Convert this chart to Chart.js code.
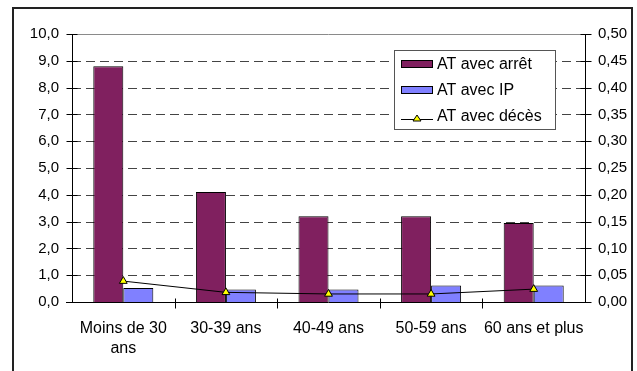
<!DOCTYPE html>
<html>
<head>
<meta charset="utf-8">
<script src="https://cdn.jsdelivr.net/npm/chart.js@4/dist/chart.umd.min.js"></script>
<style>
  html, body { margin: 0; padding: 0; background: #ffffff; }
  #wrap { position: relative; width: 637px; height: 371px; }
</style>
</head>
<body>
<div id="wrap"><canvas id="chart" width="637" height="371"></canvas></div>
<script>
// Age groups and the three accident rates
const categories = [['Moins de 30', 'ans'], '30-39 ans', '40-49 ans', '50-59 ans', '60 ans et plus'];
const seriesNames = ['AT avec arrêt', 'AT avec IP', 'AT avec décès'];
const atAvecArret = [8.8, 4.1, 3.2, 3.2, 2.95];
const atAvecIP = [0.52, 0.47, 0.47, 0.62, 0.62];
const atAvecDeces = [0.039, 0.018, 0.015, 0.015, 0.024];

const FONT = '"Liberation Sans", Arial, sans-serif';
const frac = (v, d) => v.toFixed(d).replace('.', ',');

// Outer frame of the chart block
const framePlugin = {
  id: 'frame',
  beforeDraw(chart) {
    const ctx = chart.ctx;
    ctx.save();
    ctx.strokeStyle = '#222';
    ctx.lineWidth = 2;
    ctx.beginPath();
    ctx.moveTo(13, 380);
    ctx.lineTo(13, 8);
    ctx.lineTo(632, 8);
    ctx.lineTo(632, 380);
    ctx.stroke();
    ctx.restore();
  }
};

// Dashed horizontal grid, axis lines and crossing tick marks
const axesPlugin = {
  id: 'axesDraw',
  beforeDatasetsDraw(chart) {
    const ctx = chart.ctx;
    const { left, right, top, bottom } = chart.chartArea;
    const y = chart.scales.y, y1 = chart.scales.y1;
    ctx.save();
    ctx.lineWidth = 1;
    y.ticks.forEach(t => {
      if (t.value === y.min) return;
      const py = Math.round(y.getPixelForValue(t.value)) + 0.5;
      ctx.beginPath();
      if (t.value === y.max) {
        ctx.setLineDash([]);
        ctx.strokeStyle = '#8a8a8a';
      } else {
        ctx.setLineDash([9, 5]);
        ctx.strokeStyle = '#444';
      }
      ctx.moveTo(left, py);
      ctx.lineTo(right, py);
      ctx.stroke();
    });
    ctx.setLineDash([]);
    ctx.strokeStyle = '#000';
    const lx = Math.round(left) + 0.5, rx = Math.round(right) + 0.5, by = Math.round(bottom) + 0.5;
    ctx.beginPath();
    ctx.moveTo(lx, top); ctx.lineTo(lx, by);
    ctx.moveTo(rx, top); ctx.lineTo(rx, by);
    ctx.moveTo(left - 6, by); ctx.lineTo(right + 6, by);
    ctx.stroke();
    ctx.beginPath();
    y.ticks.forEach(t => {
      const py = Math.round(y.getPixelForValue(t.value)) + 0.5;
      ctx.moveTo(lx - 6, py); ctx.lineTo(lx + 5, py);
    });
    y1.ticks.forEach(t => {
      const py = Math.round(y1.getPixelForValue(t.value)) + 0.5;
      ctx.moveTo(rx - 5, py); ctx.lineTo(rx + 6, py);
    });
    const step = (right - left) / categories.length;
    for (let i = 1; i < categories.length; i++) {
      const px = Math.round(left + step * i) + 0.5;
      ctx.moveTo(px, by - 4); ctx.lineTo(px, by + 6);
    }
    ctx.stroke();
    ctx.restore();
  }
};

// Boxed legend inside the plot, listed in series order
const legendPlugin = {
  id: 'boxLegend',
  afterDraw(chart) {
    const ctx = chart.ctx;
    const bx = 394, by = 50, bw = 161, bh = 79;
    ctx.save();
    ctx.fillStyle = '#fff';
    ctx.fillRect(bx, by, bw, bh);
    ctx.strokeStyle = '#555';
    ctx.lineWidth = 1;
    ctx.strokeRect(bx + 0.5, by + 0.5, bw, bh);
    ctx.font = '16px ' + FONT;
    ctx.textBaseline = 'middle';
    const rows = [64, 90, 116];
    seriesNames.forEach((name, i) => {
      const ds = chart.data.datasets.find(d => d.label === name);
      const cy = rows[i];
      if (ds.type === 'line') {
        ctx.strokeStyle = '#000';
        ctx.beginPath();
        ctx.moveTo(401, cy + 3.5); ctx.lineTo(433, cy + 3.5);
        ctx.stroke();
        ctx.beginPath();
        ctx.moveTo(417, cy - 1); ctx.lineTo(421, cy + 5); ctx.lineTo(413, cy + 5); ctx.closePath();
        ctx.fillStyle = ds.pointBackgroundColor;
        ctx.fill();
        ctx.stroke();
      } else {
        ctx.fillStyle = ds.backgroundColor;
        ctx.fillRect(401, cy - 4, 32, 8);
        ctx.strokeStyle = '#000';
        ctx.strokeRect(401.5, cy - 3.5, 31, 7);
      }
      ctx.fillStyle = '#000';
      ctx.fillText(name, 437, cy + 1);
    });
    ctx.restore();
  }
};

new Chart(document.getElementById('chart'), {
  data: {
    labels: categories,
    datasets: [
      {
        type: 'line', label: seriesNames[2], data: atAvecDeces, yAxisID: 'y1', order: 0,
        borderColor: '#000', borderWidth: 1, tension: 0,
        pointStyle: 'triangle', pointRadius: 4.5,
        pointBackgroundColor: '#ffff00', pointBorderColor: '#000', pointBorderWidth: 1
      },
      {
        type: 'bar', label: seriesNames[0], data: atAvecArret, yAxisID: 'y', order: 1,
        backgroundColor: '#80205f', borderColor: '#000', borderWidth: 1,
        categoryPercentage: 0.585, barPercentage: 1
      },
      {
        type: 'bar', label: seriesNames[1], data: atAvecIP, yAxisID: 'y', order: 1,
        backgroundColor: '#8080ff', borderColor: '#000', borderWidth: 1,
        categoryPercentage: 0.585, barPercentage: 1
      }
    ]
  },
  options: {
    responsive: false,
    animation: false,
    layout: { padding: { top: 34, left: 0, right: 0, bottom: 0 } },
    plugins: { legend: { display: false }, tooltip: { enabled: false } },
    scales: {
      x: {
        offset: true,
        grid: { display: false, drawTicks: false },
        border: { display: false },
        ticks: { color: '#000', font: { family: FONT, size: 16, lineHeight: 1.25 }, padding: 17, maxRotation: 0, autoSkip: false },
        afterFit(s) { s.height = 69; }
      },
      y: {
        position: 'left', min: 0, max: 10,
        grid: { display: false, drawTicks: false },
        border: { display: false },
        ticks: { stepSize: 1, color: '#000', padding: 13, font: { family: FONT, size: 15 }, callback: v => frac(v, 1) },
        afterFit(s) { s.width = 72; }
      },
      y1: {
        position: 'right', min: 0, max: 0.5,
        grid: { display: false, drawTicks: false },
        border: { display: false },
        ticks: { count: 11, color: '#000', padding: 13, font: { family: FONT, size: 15 }, callback: v => frac(v, 2) },
        afterFit(s) { s.width = 52; }
      }
    }
  },
  plugins: [framePlugin, axesPlugin, legendPlugin]
});
</script>
</body>
</html>
